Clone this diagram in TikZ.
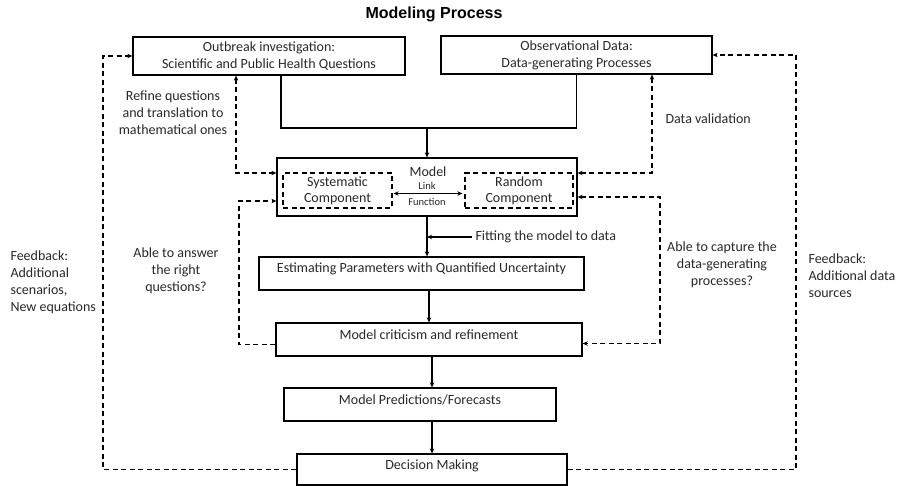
\documentclass[tikz,border=0pt]{standalone}
\definecolor{ink}{RGB}{40,40,40}
\usepackage{fontspec}
\setmainfont{Carlito}
\newfontfamily\titlefont{Liberation Sans}
\usepackage{tikz}
\usetikzlibrary{arrows.meta,positioning,calc}
\begin{document}
\begin{tikzpicture}[x=1pt,y=-1pt,>={Stealth[length=5pt,width=4.5pt]},
    box/.style={draw,line width=1.3pt,minimum height=33pt,align=center,inner sep=2pt,
      text=ink,font=\fontsize{14}{17}\selectfont},
    upper/.style={text height=10pt,text depth=11pt},
    inbox/.style={draw,dashed,line width=1.2pt,dash pattern=on 5pt off 3.5pt,align=center,
      text=ink,font=\fontsize{14}{16}\selectfont,minimum width=109pt,minimum height=35pt,inner sep=1pt},
    lbl/.style={align=center,text=ink,font=\fontsize{14}{17}\selectfont},
    flow/.style={line width=1.3pt,->},
    fb/.style={line width=1.3pt,dash pattern=on 5pt off 3.5pt}]
        \useasboundingbox (0,0) rectangle (897,486);
        \node[font=\titlefont\bfseries\fontsize{16}{18}\selectfont] (title) at (434,14) {Modeling Process};
        \node[box,minimum width=272pt,minimum height=38pt] (outbreak) at (269,56)
          {Outbreak investigation:\\Scientific and Public Health Questions};
        \node[box,minimum width=271pt,minimum height=38pt] (obsdata) at (576.5,55)
          {Observational Data:\\Data-generating Processes};
        \node[box,minimum width=300pt,minimum height=58pt] (model) at (427,187) {};
        \node[lbl] (modellbl) at (428,172) {Model};
        \node[inbox] (syscomp) at (337.5,190.5) {Systematic\\Component};
        \node[inbox,minimum width=108pt] (randcomp) at (519,190.5) {Random\\Component};
        \node[align=center,text=ink,font=\fontsize{10.5}{16}\selectfont] (link) at (427,194) {Link\\Function};
        \node[box,upper,minimum width=325pt] (estim) at (421.5,273.5) {Estimating Parameters with Quantified Uncertainty};
        \node[box,upper,minimum width=306pt] (critic) at (429,339.5) {Model criticism and refinement};
        \node[box,upper,minimum width=272pt] (predict) at (420,404.5) {Model Predictions/Forecasts};
        \node[box,upper,minimum width=270pt,minimum height=31pt] (decision) at (432,469.5) {Decision Making};

        \coordinate (joinL) at (281,128);
        \coordinate (rq) at (236,173);
        \coordinate (dv) at (652,173);
        \coordinate (aq) at (239,201);
        \coordinate (cp) at (660,197);
        \coordinate (fl) at (103,0);
        \coordinate (fr) at (796,0);

        \draw[line width=1.3pt] (outbreak.south -| joinL) -- (joinL) -- (obsdata.south |- joinL) -- (obsdata.south);
        \draw[flow] (model.north |- joinL) -- (model.north);
        \draw[line width=1.1pt,<->] ([shift={(1pt,-3pt)}]syscomp.east) -- ([shift={(-2pt,-3pt)}]randcomp.west);
        \draw[flow] (model.south) -- (model.south |- estim.north);
        \node[lbl,anchor=west] (fittxt) at (472,237) {Fitting the model to data};
        \draw[flow] (fittxt.west) -- (fittxt.west -| model.south);
        \draw[flow] (estim.south -| critic.north) -- (critic.north);
        \draw[flow] (critic.south -| decision.north) -- (predict.north -| decision.north);
        \draw[flow] (predict.south -| decision.north) -- (decision.north);

        \draw[fb,<->] (outbreak.south -| rq) |- (model.west |- rq);
        \node[lbl] (refinetxt) at (173,113) {Refine questions\\and translation to\\mathematical ones};
        \draw[fb,<->] (obsdata.south -| dv) |- (model.east |- dv);
        \node[lbl,anchor=west] (dvtxt) at (662,119) {Data validation};
        \draw[fb,->] ([yshift=-5pt]critic.west) -| (aq) -- (aq -| model.west);
        \node[lbl] (answertxt) at (176,271) {Able to answer\\the right\\questions?};
        \draw[fb,<->] (model.east |- cp) -| ([yshift=-4pt]cp |- critic.east) -- ([yshift=-4pt]critic.east);
        \node[lbl] (capturetxt) at (722,265) {Able to capture the\\data-generating\\processes?};
        \draw[fb,->] (decision.west) -| (outbreak.west -| fl) -- (outbreak.west);
        \node[lbl,align=left,anchor=west] (fbltxt) at (7,282) {Feedback:\\Additional\\scenarios,\\New equations};
        \draw[fb,->] (decision.east) -| (obsdata.east -| fr) -- (obsdata.east);
        \node[lbl,align=left,anchor=west] (fbrtxt) at (805,276) {Feedback:\\Additional data\\sources};
      \end{tikzpicture}
\end{document}
